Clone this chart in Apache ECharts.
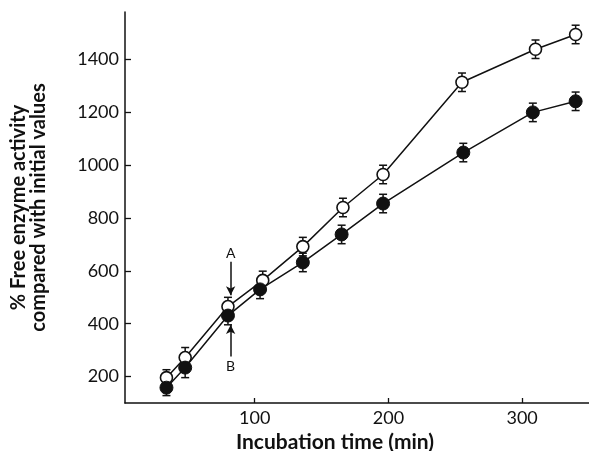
<!DOCTYPE html>
<html>
<head>
<meta charset="utf-8">
<script src="https://cdn.jsdelivr.net/npm/echarts@6/dist/echarts.min.js"></script>
<style>html,body{margin:0;padding:0;background:#fff;}#c{width:589px;height:451px;}</style>
</head>
<body>
<div id="c"></div>
<script>
// Data
const timeA = [34, 48, 80, 106, 136, 166, 196, 255, 310, 340];
const valuesA = [196, 272, 465, 564, 692, 840, 965, 1314, 1439, 1495];
const errA = [30, 38, 35, 35, 35, 35, 35, 35, 35, 35];
const timeB = [34, 48, 80, 104, 136, 165, 196, 256, 308, 340];
const valuesB = [158, 234, 431, 530, 632, 738, 855, 1048, 1200, 1242];
const errB = [30, 38, 35, 35, 35, 35, 35, 35, 35, 35];
const xTicks = [100, 200, 300];
const yTicks = [200, 400, 600, 800, 1000, 1200, 1400];
const labelA = {text: 'A', x: 82, y: 665, arrowFrom: 635, arrowTo: 508};
const labelB = {text: 'B', x: 82, y: 238, arrowFrom: 276, arrowTo: 395};

const FONT = 'Lato, "Open Sans", sans-serif';
const INK = '#111';

function pairs(xs, ys) { return xs.map((x, i) => [x, ys[i]]); }
function errData(xs, ys, es) { return xs.map((x, i) => [x, ys[i] - es[i], ys[i] + es[i]]); }

function errRender(params, api) {
  const x = api.value(0);
  const lo = api.coord([x, api.value(1)]);
  const hi = api.coord([x, api.value(2)]);
  const w = 4;
  const st = {stroke: INK, lineWidth: 1.5};
  return {
    type: 'group',
    children: [
      {type: 'line', shape: {x1: lo[0], y1: lo[1], x2: hi[0], y2: hi[1]}, style: st},
      {type: 'line', shape: {x1: lo[0] - w, y1: lo[1], x2: lo[0] + w, y2: lo[1]}, style: st},
      {type: 'line', shape: {x1: hi[0] - w, y1: hi[1], x2: hi[0] + w, y2: hi[1]}, style: st}
    ]
  };
}

const chart = echarts.init(document.getElementById('c'), null, {renderer: 'canvas'});
chart.setOption({
  backgroundColor: '#fff',
  animation: false,
  grid: {left: 125, right: 0, top: 12, bottom: 48, containLabel: false, outerBoundsMode: 'none'},
  xAxis: {
    type: 'value', min: 3, max: 350,
    name: 'Incubation time (min)', nameLocation: 'middle', nameGap: 25,
    nameTextStyle: {fontFamily: FONT, fontSize: 21, fontWeight: 'bold', color: INK, padding: [0, 44, 0, 0]},
    axisLine: {show: true, lineStyle: {color: INK, width: 1.5}},
    axisTick: {show: true, inside: true, length: 5, customValues: xTicks, lineStyle: {color: INK, width: 1.3}},
    axisLabel: {customValues: xTicks, fontFamily: FONT, fontSize: 18, color: INK, margin: 6, formatter: v => String(v)},
    splitLine: {show: false}
  },
  yAxis: {
    type: 'value', min: 100, max: 1580,
    name: '% Free enzyme activity\ncompared with initial values',
    nameLocation: 'middle', nameRotate: 90, nameGap: 76,
    nameTextStyle: {fontFamily: FONT, fontSize: 20, fontWeight: 'bold', color: INK, lineHeight: 20},
    axisLine: {show: true, lineStyle: {color: INK, width: 1.5}},
    axisTick: {show: true, inside: true, length: 6, customValues: yTicks, lineStyle: {color: INK, width: 1.3}},
    axisLabel: {customValues: yTicks, fontFamily: FONT, fontSize: 18, color: INK, margin: 6, formatter: v => String(v)},
    splitLine: {show: false}
  },
  series: [
    {
      type: 'custom', renderItem: errRender, data: errData(timeA, valuesA, errA),
      encode: {x: 0, y: [1, 2]}, z: 1, silent: true
    },
    {
      type: 'custom', renderItem: errRender, data: errData(timeB, valuesB, errB),
      encode: {x: 0, y: [1, 2]}, z: 1, silent: true
    },
    {
      type: 'line', data: pairs(timeA, valuesA), z: 3,
      symbol: 'circle', symbolSize: 12,
      lineStyle: {color: INK, width: 1.5},
      itemStyle: {color: '#fff', borderColor: INK, borderWidth: 1.6},
      markLine: {
        silent: true, symbol: ['none', 'arrow'], symbolSize: [7, 9],
        lineStyle: {color: INK, width: 1.5, type: 'solid'},
        label: {show: false},
        data: [
          [{coord: [labelA.x, labelA.arrowFrom]}, {coord: [labelA.x, labelA.arrowTo]}],
          [{coord: [labelB.x, labelB.arrowFrom]}, {coord: [labelB.x, labelB.arrowTo]}]
        ]
      },
      markPoint: {
        silent: true, symbol: 'circle', symbolSize: 1,
        itemStyle: {color: 'rgba(0,0,0,0)'},
        label: {show: true, position: 'inside', fontFamily: FONT, fontSize: 14, color: INK, formatter: p => p.name},
        data: [
          {name: labelA.text, coord: [labelA.x, labelA.y]},
          {name: labelB.text, coord: [labelB.x, labelB.y]}
        ]
      }
    },
    {
      type: 'line', data: pairs(timeB, valuesB), z: 4,
      symbol: 'circle', symbolSize: 13,
      lineStyle: {color: INK, width: 1.5},
      itemStyle: {color: INK, borderColor: INK, borderWidth: 1}
    }
  ]
});
</script>
</body>
</html>
